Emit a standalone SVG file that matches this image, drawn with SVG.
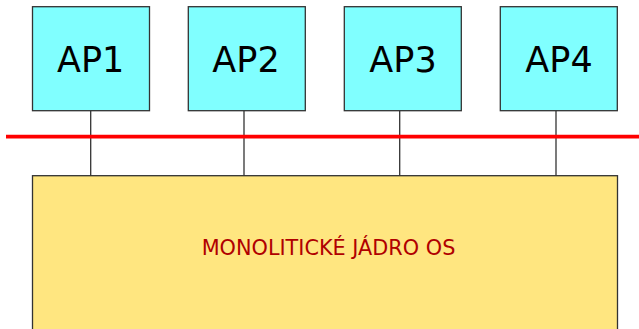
<svg xmlns="http://www.w3.org/2000/svg" width="639" height="329" viewBox="0 0 639 329">
<style>
.ap rect{fill:#80ffff;stroke:#333;stroke-width:1.3}
.ap text{font-family:"DejaVu Sans",sans-serif;font-size:35px;fill:#000;text-anchor:middle}
.conn line{stroke:#333;stroke-width:1.3}
</style>
<rect width="639" height="329" fill="#fff"/>
<g id="kernel">
<rect x="32.5" y="175.7" width="585" height="170" fill="#ffe680" stroke="#333" stroke-width="1.3"/>
<text x="328.5" y="254.5" font-family="DejaVu Sans,sans-serif" font-size="20.8" fill="#b00000" text-anchor="middle">MONOLITICKÉ JÁDRO OS</text>
</g>
<g class="conn" id="connectors">
<line x1="90.7" y1="110.7" x2="90.7" y2="175.7"/>
<line x1="244" y1="110.7" x2="244" y2="175.7"/>
<line x1="399.7" y1="110.7" x2="399.7" y2="175.7"/>
<line x1="556" y1="110.7" x2="556" y2="175.7"/>
</g>
<g id="bus">
<line x1="6" y1="136.7" x2="639" y2="136.7" stroke="#ff0000" stroke-width="3.7"/>
</g>
<g id="ap1" class="ap"><rect x="32.5" y="6.7" width="117" height="104"/><text x="90.7" y="72.3">AP1</text></g>
<g id="ap2" class="ap"><rect x="188.3" y="6.7" width="117" height="104"/><text x="246" y="72.3">AP2</text></g>
<g id="ap3" class="ap"><rect x="344.3" y="6.7" width="117" height="104"/><text x="403" y="72.3">AP3</text></g>
<g id="ap4" class="ap"><rect x="500.3" y="6.7" width="117" height="104"/><text x="559" y="72.3">AP4</text></g>
</svg>
